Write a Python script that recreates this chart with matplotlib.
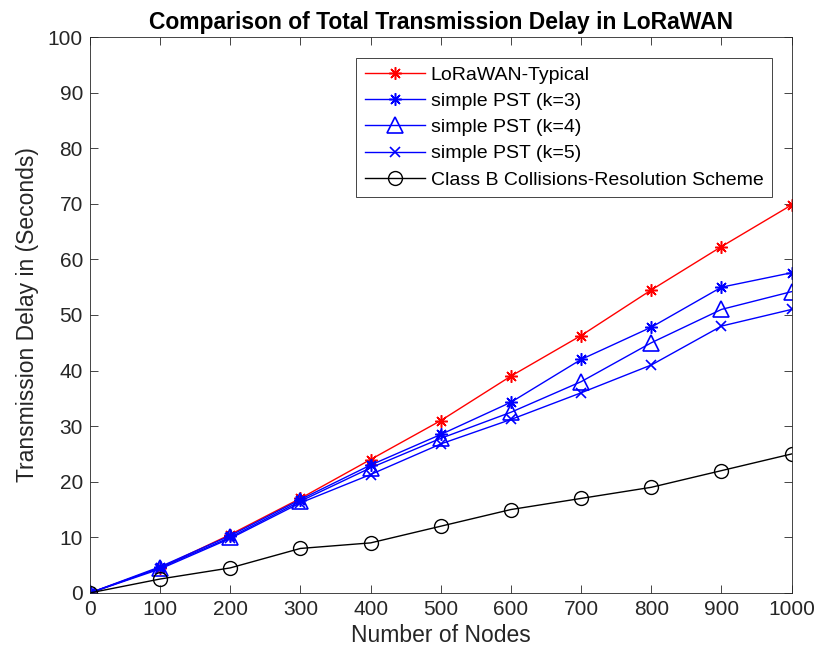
import matplotlib.pyplot as plt

plt.rcParams['font.family'] = ['Liberation Sans', 'DejaVu Sans']

nodes = [0, 100, 200, 300, 400, 500, 600, 700, 800, 900, 1000]
typical = [0, 4.5, 10.5, 17.0, 24.0, 31.0, 39.0, 46.3, 54.5, 62.3, 69.8]
pst_k3 = [0, 4.7, 10.3, 16.8, 23.0, 28.5, 34.3, 42.0, 47.8, 55.0, 57.6]
pst_k4 = [0, 4.5, 10.0, 16.5, 22.5, 27.8, 32.5, 38.0, 45.0, 51.0, 54.2]
pst_k5 = [0, 4.3, 9.8, 16.2, 21.3, 26.8, 31.2, 36.0, 41.0, 48.0, 51.0]
class_b = [0, 2.5, 4.5, 8.0, 9.0, 12.0, 15.0, 17.0, 19.0, 22.0, 25.0]

# eight-spoke asterisk, like the '*' marker of other plotting tools
ASTERISK = (8, 2, 0)

fig = plt.figure(figsize=(8.17, 6.61), dpi=100)
ax = fig.add_axes([0.110, 0.103, 0.859, 0.841])

ax.plot(nodes, typical, '-', color='red', marker=ASTERISK, ms=9, mew=1.1, lw=1,
        label='LoRaWAN-Typical')
ax.plot(nodes, pst_k3, '-', color='blue', marker=ASTERISK, ms=9, mew=1.1, lw=1,
        label='simple PST (k=3)')
ax.plot(nodes, pst_k4, '-', color='blue', marker='^', ms=11, mfc='none',
        mew=1.2, lw=1, label='simple PST (k=4)')
ax.plot(nodes, pst_k5, '-', color='blue', marker='x', ms=7, mew=1.2, lw=1,
        label='simple PST (k=5)')
ax.plot(nodes, class_b, '-', color='black', marker='o', ms=10, mfc='none',
        mew=1, lw=1, label='Class B Collisions-Resolution Scheme')

ax.set_xlim(0, 1000)
ax.set_ylim(0, 100)
ax.set_xticks(range(0, 1001, 100))
ax.set_yticks(range(0, 101, 10))
ax.tick_params(direction='in', top=True, right=True, labelsize=15,
               colors='#262626', length=6, width=0.6, pad=5)
for sp in ax.spines.values():
    sp.set_color('#262626')
    sp.set_linewidth(0.6)

ax.set_xlabel('Number of Nodes', fontsize=16.5, color='#262626', labelpad=4)
ax.set_ylabel('Transmission Delay in (Seconds)', fontsize=16.5,
              color='#262626', labelpad=6)
ax.set_title('Comparison of Total Transmission Delay in LoRaWAN',
             fontsize=16.5, fontweight='bold', pad=6)

leg = ax.legend(loc='upper right', bbox_to_anchor=(0.9715, 0.962),
                borderaxespad=0, fontsize=14, fancybox=False,
                edgecolor='#262626', framealpha=1, handlelength=3.1,
                handletextpad=0.3, borderpad=0.42, labelspacing=0.44)
leg.get_frame().set_linewidth(0.6)

fig.savefig('out.png', dpi=100)
